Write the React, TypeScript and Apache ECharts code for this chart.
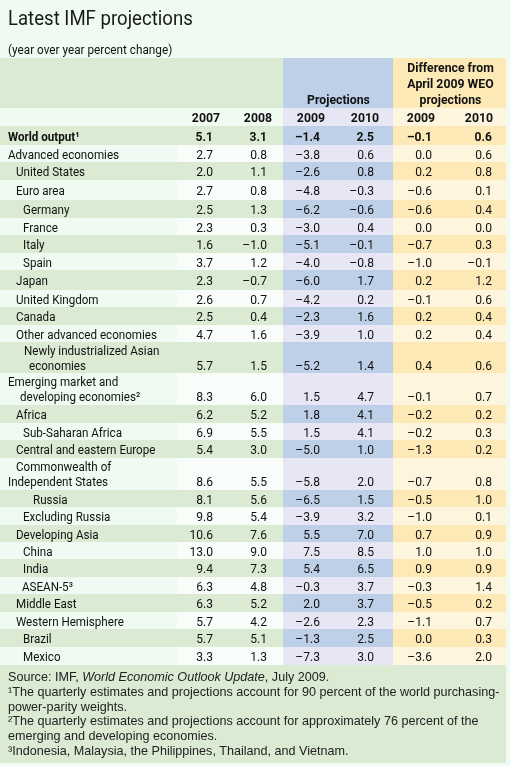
import React, { useEffect, useRef } from 'react';
import * as echarts from 'echarts';

// ---------------- DATA ----------------
const title = 'Latest IMF projections';
const subtitle = '(year over year percent change)';
const yearLabels = ['2007', '2008', '2009', '2010', '2009', '2010'];
const projHeader = ['Projections'];
const diffHeader = ['Difference from', 'April 2009 WEO', 'projections'];

const rowLabels: string[][] = [
  ['World output¹'],
  ['Advanced economies'],
  ['United States'],
  ['Euro area'],
  ['Germany'],
  ['France'],
  ['Italy'],
  ['Spain'],
  ['Japan'],
  ['United Kingdom'],
  ['Canada'],
  ['Other advanced economies'],
  ['Newly industrialized Asian', 'economies'],
  ['Emerging market and', 'developing economies²'],
  ['Africa'],
  ['Sub-Saharan Africa'],
  ['Central and eastern Europe'],
  ['Commonwealth of', 'Independent States'],
  ['Russia'],
  ['Excluding Russia'],
  ['Developing Asia'],
  ['China'],
  ['India'],
  ['ASEAN-5³'],
  ['Middle East'],
  ['Western Hemisphere'],
  ['Brazil'],
  ['Mexico'],
];

const v2007 = [5.1, 2.7, 2.0, 2.7, 2.5, 2.3, 1.6, 3.7, 2.3, 2.6, 2.5, 4.7, 5.7, 8.3, 6.2, 6.9, 5.4, 8.6, 8.1, 9.8, 10.6, 13.0, 9.4, 6.3, 6.3, 5.7, 5.7, 3.3];
const v2008 = [3.1, 0.8, 1.1, 0.8, 1.3, 0.3, -1.0, 1.2, -0.7, 0.7, 0.4, 1.6, 1.5, 6.0, 5.2, 5.5, 3.0, 5.5, 5.6, 5.4, 7.6, 9.0, 7.3, 4.8, 5.2, 4.2, 5.1, 1.3];
const proj2009 = [-1.4, -3.8, -2.6, -4.8, -6.2, -3.0, -5.1, -4.0, -6.0, -4.2, -2.3, -3.9, -5.2, 1.5, 1.8, 1.5, -5.0, -5.8, -6.5, -3.9, 5.5, 7.5, 5.4, -0.3, 2.0, -2.6, -1.3, -7.3];
const proj2010 = [2.5, 0.6, 0.8, -0.3, -0.6, 0.4, -0.1, -0.8, 1.7, 0.2, 1.6, 1.0, 1.4, 4.7, 4.1, 4.1, 1.0, 2.0, 1.5, 3.2, 7.0, 8.5, 6.5, 3.7, 3.7, 2.3, 2.5, 3.0];
const diff2009 = [-0.1, 0.0, 0.2, -0.6, -0.6, 0.0, -0.7, -1.0, 0.2, -0.1, 0.2, 0.2, 0.4, -0.1, -0.2, -0.2, -1.3, -0.7, -0.5, -1.0, 0.7, 1.0, 0.9, -0.3, -0.5, -1.1, 0.0, -3.6];
const diff2010 = [0.6, 0.6, 0.8, 0.1, 0.4, 0.0, 0.3, -0.1, 1.2, 0.6, 0.4, 0.4, 0.6, 0.7, 0.2, 0.3, 0.2, 0.8, 1.0, 0.1, 0.9, 1.0, 0.9, 1.4, 0.2, 0.7, 0.3, 2.0];

const footnoteSource = ['Source: IMF, ', 'World Economic Outlook Update', ', July 2009.'];
const footnotes = [
  '¹The quarterly estimates and projections account for 90 percent of the world purchasing-',
  'power-parity weights.',
  '²The quarterly estimates and projections account for approximately 76 percent of the',
  'emerging and developing economies.',
  '³Indonesia, Malaysia, the Philippines, Thailand, and Vietnam.',
];

// ---------------- LAYOUT ----------------
const W = 510;
const H = 766;
const FONT = 'Roboto, "Liberation Sans", sans-serif';
const FOOT_FONT = '"Liberation Sans", Arial, sans-serif';
const C = {
  bg: '#eefaf2',
  green: '#dbead2',
  white: '#f8fdf9',
  blue: '#bdd0e7',
  lav: '#e6e6f5',
  yellow: '#fde9b6',
  cream: '#fef5df',
  text: '#111111',
};
const rowHeights = [19, 17, 18, 20, 18, 17, 18, 17, 20, 17, 18, 17, 31, 32, 18, 17, 18, 32, 17, 18, 17, 17, 18, 17, 18, 17, 18, 18];
const labelIndents: number[][] = [
  [8], [8], [16], [16], [23], [23], [23], [23], [16], [16], [16], [16],
  [24, 29], [8, 20], [16], [23], [16], [16, 8], [33], [23], [16], [23], [23], [22], [16], [16], [23], [23],
];
const colBands = { labelEnd: 177, dataEnd: 283, projEnd: 393, diffEnd: 506 };
const valueRight = [213, 267, 320, 374, 432, 492];
const yearRight = [220, 272, 325, 379, 435, 493];
const tableTop = 126;
const headerTop = 58;
const yearRowTop = 108;
const LABEL_SIZE = 13.2;
const LABEL_SCALE = 0.88;
const NUM_SIZE = 13;
const NUM_SCALE = 0.93;

const fmt = (v: number) => {
  const s = Math.abs(v).toFixed(1);
  return v < 0 ? '\u2013' + s : s;
};

function buildGraphics() {
  const els: any[] = [];
  const rect = (x: number, y: number, w: number, h: number, fill: string) =>
    els.push({ type: 'rect', silent: true, shape: { x, y, width: w, height: h }, style: { fill } });
  const text = (x: number, y: number, str: string, o: any = {}) =>
    els.push({
      type: 'text',
      silent: true,
      x,
      y,
      scaleX: o.scaleX || 1,
      style: {
        x: 0,
        y: 0,
        text: str,
        fontFamily: o.fontFamily || FONT,
        fontSize: o.fontSize || LABEL_SIZE,
        fontWeight: o.fontWeight || 'normal',
        fill: o.fill || C.text,
        align: o.align || 'left',
        verticalAlign: 'middle',
        ...(o.rich ? { rich: o.rich } : {}),
      },
    });

  rect(0, 0, W, H, C.bg);

  text(8, 18.5, title, { fontSize: 20, scaleX: 0.93, fill: '#1a1a1a' });
  text(8, 50, subtitle, { fontSize: 12.8, scaleX: 0.92 });

  // header band
  rect(0, headerTop, colBands.dataEnd, yearRowTop - headerTop, C.green);
  rect(colBands.dataEnd, headerTop, colBands.projEnd - colBands.dataEnd, yearRowTop - headerTop, C.blue);
  rect(colBands.projEnd, headerTop, colBands.diffEnd - colBands.projEnd, yearRowTop - headerTop, C.yellow);
  // year row
  rect(colBands.dataEnd, yearRowTop, colBands.projEnd - colBands.dataEnd, tableTop - yearRowTop, C.lav);
  rect(colBands.projEnd, yearRowTop, colBands.diffEnd - colBands.projEnd, tableTop - yearRowTop, C.cream);

  const projCenter = (colBands.dataEnd + colBands.projEnd) / 2 + 0.5;
  const diffCenter = (colBands.projEnd + colBands.diffEnd) / 2 + 1;
  const hdr = { fontWeight: 'bold', align: 'center', fontSize: 13.2, scaleX: 0.93 };
  projHeader.forEach((s) => text(projCenter, 99, s, hdr));
  diffHeader.forEach((s, i) => text(diffCenter, 67 + i * 16, s, hdr));
  yearLabels.forEach((s, i) => text(yearRight[i], 117, s, { ...hdr, align: 'right' }));

  const cols = [v2007, v2008, proj2009, proj2010, diff2009, diff2010];
  let top = tableTop;
  rowLabels.forEach((lines, i) => {
    const h = rowHeights[i];
    const colored = i % 2 === 0;
    if (colored) {
      rect(0, top, colBands.dataEnd, h, C.green);
    } else {
      rect(colBands.labelEnd, top, colBands.dataEnd - colBands.labelEnd, h, C.white);
    }
    rect(colBands.dataEnd, top, colBands.projEnd - colBands.dataEnd, h, colored ? C.blue : C.lav);
    rect(colBands.projEnd, top, colBands.diffEnd - colBands.projEnd, h, colored ? C.yellow : C.cream);

    const bold = i === 0 ? 'bold' : 'normal';
    let valueY: number;
    if (lines.length === 1) {
      valueY = top + h / 2 + 0.5;
      text(labelIndents[i][0], valueY, lines[0], { fontWeight: bold, scaleX: LABEL_SCALE });
    } else {
      text(labelIndents[i][0], top + 8.5, lines[0], { scaleX: LABEL_SCALE });
      valueY = top + 23.5;
      text(labelIndents[i][1], valueY, lines[1], { scaleX: LABEL_SCALE });
    }
    cols.forEach((arr, c) =>
      text(valueRight[c], valueY, fmt(arr[i]), { fontWeight: bold, align: 'right', fontSize: NUM_SIZE, scaleX: NUM_SCALE })
    );
    top += h;
  });

  // footer
  const footTop = top;
  rect(0, footTop, colBands.diffEnd, 763 - footTop, C.green);
  const fs = 12.6;
  text(8, footTop + 12, `{n|${footnoteSource[0]}}{i|${footnoteSource[1]}}{n|${footnoteSource[2]}}`, {
    fontFamily: FOOT_FONT,
    fontSize: fs,
    fill: '#222',
    rich: {
      n: { fontFamily: FOOT_FONT, fontSize: fs, fill: '#222' },
      i: { fontFamily: FOOT_FONT, fontSize: fs, fill: '#222', fontStyle: 'italic' },
    },
  });
  footnotes.forEach((s, k) =>
    text(8, footTop + 27 + k * 14.7, s, { fontFamily: FOOT_FONT, fontSize: fs, fill: '#222' })
  );
  return els;
}

export default function App() {
  const ref = useRef<HTMLDivElement>(null);
  useEffect(() => {
    if (!ref.current) return;
    const chart = echarts.init(ref.current, undefined, { renderer: 'svg' });
    chart.setOption({
      animation: false,
      graphic: { elements: buildGraphics() },
    });
    return () => chart.dispose();
  }, []);
  return <div ref={ref} style={{ position: 'fixed', left: 0, top: 0, width: W, height: H }} />;
}
